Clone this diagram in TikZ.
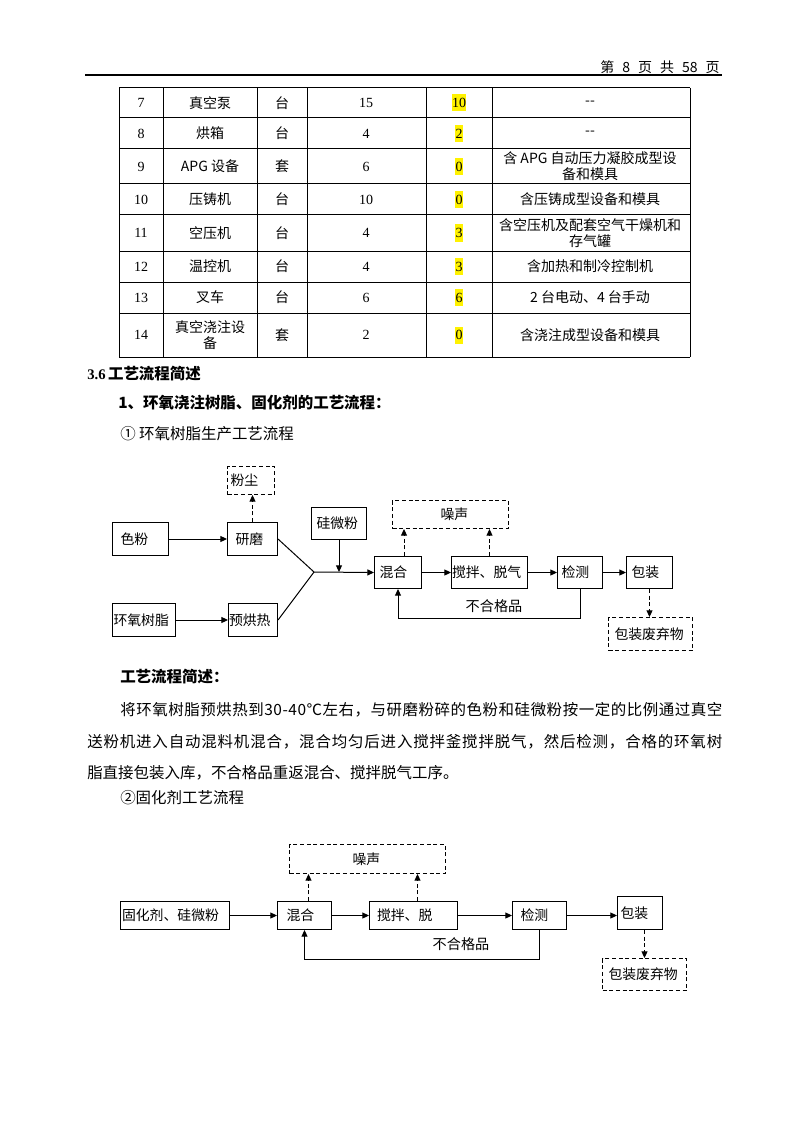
\documentclass[tikz,border=0pt]{standalone}
\usepackage{fontspec}
\setmainfont{Liberation Serif}
\newfontfamily\cjk{Noto Sans CJK SC}
\usetikzlibrary{arrows.meta,calc}
\makeatletter
\def\spreadline#1#2{\hbox to #1{\spr@loop#2\relax}}
\def\spr@loop#1{\ifx\relax#1\unskip\else#1\hskip 0pt plus 1fil minus 0.3pt\expandafter\spr@loop\fi}
\makeatother
\tikzset{
  tline/.style={line width=0.75pt},
  cell/.style={font=\cjk\fontsize{10.5}{12}\selectfont, inner sep=0pt, align=center},
  num/.style={font=\fontsize{10.5}{12}\selectfont, inner sep=0pt},
  hl/.style={fill=yellow, inner xsep=0.3pt, inner ysep=0pt, minimum height=12.75pt, font=\fontsize{10.5}{12}\selectfont},
  body/.style={font=\cjk\fontsize{11.6}{14}\selectfont, inner sep=0pt, anchor=west},
  bodyb/.style={font=\cjk\bfseries\fontsize{11.6}{14}\selectfont, inner sep=0pt, anchor=west},
  bx/.code n args={3}{%
    \pgfmathsetlengthmacro\bxtw{(#1-2*#3)*0.75pt}%
    \pgfmathsetlengthmacro\bxpad{#3*0.75pt}%
    \pgfmathsetlengthmacro\bxh{#2*0.75pt}%
    \pgfkeysalso{/tikz/draw, /tikz/line width=0.75pt, /tikz/inner xsep=\bxpad, /tikz/inner ysep=0pt,
      /tikz/minimum height=\bxh, /tikz/text width=\bxtw, /tikz/align=left, /tikz/anchor=north west,
      /tikz/font=\cjk\fontsize{10.4}{12}\selectfont}},
  dbox/.style={dash pattern=on 3pt off 2pt},
  arr/.style={-{Triangle[length=5pt,width=4.5pt]}, line width=0.75pt},
  darr/.style={arr, dash pattern=on 3pt off 2pt},
  lbl/.style={font=\cjk\fontsize{10.6}{12}\selectfont, inner sep=0pt},
}
\begin{document}
\begin{tikzpicture}[x=0.75pt,y=-0.75pt]
\useasboundingbox[fill=white] (0,0) rectangle (794,1123);

% header
\node[anchor=east, inner sep=0pt, font=\cjk\fontsize{10.5}{12}\selectfont] (hdr) at (720,67) {第\hspace{6pt}8\hspace{6pt}页\hspace{6pt}共\hspace{6pt}58\hspace{6pt}页};
\draw[line width=1pt] (85,75) -- (722,75);

% table
\foreach \yy in {88,118,149,184,215,251,282,313,357} \draw[tline] (119,\yy) -- (690,\yy);
\foreach \xx in {119,163,257,307,426,492,690} \draw[tline] (\xx,88) -- (\xx,357);
\foreach \n/\nm/\un/\q/\nw/\rem/\yc in {
  7/真空泵/台/15/10/-{}-/103,
  8/烘箱/台/4/2/-{}-/133.5,
  9/APG 设备/套/6/0/{含 APG 自动压力凝胶成型设\\备和模具}/166.5,
  10/压铸机/台/10/0/含压铸成型设备和模具/199.5,
  11/空压机/台/4/3/{含空压机及配套空气干燥机和\\存气罐}/233,
  12/温控机/台/4/3/含加热和制冷控制机/266.5,
  13/叉车/台/6/6/2 台电动、4 台手动/297.5,
  14/{真空浇注设\\备}/套/2/0/含浇注成型设备和模具/335}{
  \node[num] (c1-\n) at (141,\yc) {\n};
  \node[cell] (c2-\n) at (210,\yc) {\nm};
  \node[cell] (c3-\n) at (282,\yc) {\un};
  \node[num] (c4-\n) at (366,\yc) {\q};
  \node[hl] (c5-\n) at (459,\yc) {\nw};
  \node[cell] (c6-\n) at (590,\yc) {\rem};
}

% headings
\node[inner sep=0pt, anchor=west] (h36) at (87,374) {\fontsize{11}{13}\selectfont\bfseries 3.6\,{\cjk\bfseries\fontsize{11.6}{14}\selectfont 工艺流程简述}};
\node[bodyb] (h1) at (118,403) {1、环氧浇注树脂、固化剂的工艺流程：};
\node[body] (h2) at (120,434) {① 环氧树脂生产工艺流程};

% flowchart 1
\node[bx={47}{28}{3}, dbox] (fenchen) at (227,466) {粉尘};
\node[bx={56}{33}{8}] (sefen) at (112,522) {色粉};
\node[bx={50}{33}{8}] (yanmo) at (227,522) {研磨};
\node[bx={63}{33}{1}] (huanyang) at (112,603) {环氧树脂};
\node[bx={49}{33}{0.5}] (yuhong) at (228,603) {预烘热};
\node[bx={55}{32}{5}] (guiwei) at (311,507) {硅微粉};
\node[bx={47}{32}{5}] (hunhe) at (374,556) {混合};
\node[bx={76}{32}{0.5}] (jiaoban) at (451,556) {搅拌、脱气};
\node[bx={45}{32}{4}] (jiance) at (557,556) {检测};
\node[bx={46}{32}{5}] (baozhuang) at (626,556) {包装};
\node[bx={84}{33}{6}, dbox] (feiqi) at (608,617) {包装废弃物};
\node[bx={116}{28}{48}, dbox] (zaosheng) at (392,500) {噪声};
\coordinate (J) at (314,572);

\draw[arr] (sefen.east) -- (yanmo.west);
\draw[arr] (huanyang.east) -- (yuhong.west);
\draw[tline] (yanmo.east) -- (J);
\draw[tline] (yuhong.east) -- (J);
\draw[arr] (J) -- (hunhe.west);
\draw[arr] (guiwei.south) -- (guiwei.south |- J);
\draw[darr] (yanmo.north) -- (yanmo.north |- fenchen.south);
\coordinate (hn) at ($(hunhe.north)+(6,0)$);
\draw[darr] (hn) -- (hn |- zaosheng.south);
\draw[darr] (jiaoban.north) -- (jiaoban.north |- zaosheng.south);
\draw[arr] (hunhe.east) -- (jiaoban.west);
\draw[arr] (jiaoban.east) -- (jiance.west);
\draw[arr] (jiance.east) -- (baozhuang.west);
\draw[darr] (baozhuang.south) -- (baozhuang.south |- feiqi.north);
\draw[arr] (jiance.south) -- ++(0,29) -| (hunhe.south);
\node[lbl] (bhg1) at (494,606) {不合格品};

% description
\node[bodyb] (d0) at (120,677) {工艺流程简述：};
\node[body] (d1) at (120,710) {\spreadline{451.5pt}{将环氧树脂预烘热到30-40℃左右，与研磨粉碎的色粉和硅微粉按一定的比例通过真空}};
\node[body] (d2) at (87,742) {\spreadline{476.25pt}{送粉机进入自动混料机混合，混合均匀后进入搅拌釜搅拌脱气，然后检测，合格的环氧树}};
\node[body] (d3) at (87,773) {脂直接包装入库，不合格品重返混合、搅拌脱气工序。};
\node[body] (d4) at (120,798) {②固化剂工艺流程};

% flowchart 2
\node[bx={156}{29}{63}, dbox] (zaosheng2) at (289,844) {噪声};
\node[bx={109}{28}{1.5}] (guhua) at (120,901) {固化剂、硅微粉};
\node[bx={54}{28}{9}] (hunhe2) at (277,901) {混合};
\node[bx={88}{28}{7.5}] (jiaoban2) at (369,901) {搅拌、脱};
\node[bx={54}{28}{8}] (jiance2) at (512,901) {检测};
\node[bx={45}{33}{3}] (baozhuang2) at (617,896) {包装};
\node[bx={84}{32}{6}, dbox] (feiqi2) at (602,958) {包装废弃物};

\draw[arr] (guhua.east) -- (hunhe2.west);
\draw[arr] (hunhe2.east) -- (jiaoban2.west);
\draw[arr] (jiaoban2.east) -- (jiaoban2.east -| jiance2.west);
\draw[arr] (jiance2.east) -- (jiance2.east -| baozhuang2.west);
\coordinate (hn2) at ($(hunhe2.north)+(4,0)$);
\draw[darr] (hn2) -- (hn2 |- zaosheng2.south);
\coordinate (jn2) at ($(jiaoban2.north)+(4,0)$);
\draw[darr] (jn2) -- (jn2 |- zaosheng2.south);
\coordinate (bn2) at ($(baozhuang2.south)+(4.5,0)$);
\draw[darr] (bn2) -- (bn2 |- feiqi2.north);
\draw[arr] (jiance2.south) -- ++(0,29) -| (hunhe2.south);
\node[lbl] (bhg2) at (461,944) {不合格品};
\end{tikzpicture}
\end{document}
